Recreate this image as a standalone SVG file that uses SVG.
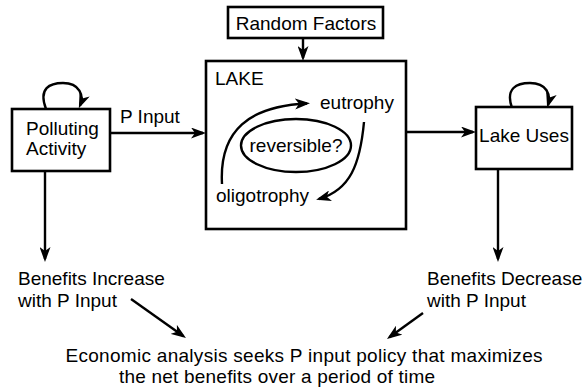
<svg xmlns="http://www.w3.org/2000/svg" width="584" height="389" viewBox="0 0 584 389">
  <style>
    .box { fill: #fff; stroke: #000; stroke-width: 2.6; }
    .lbl { font-family: "Liberation Sans", Arial, Helvetica, sans-serif; font-size: 19px; fill: #000; }
    .mid { text-anchor: middle; }
    .edge { fill: none; stroke: #000; stroke-width: 2.4; marker-end: url(#ah); }
  </style>
  <defs>
    <marker id="ah" viewBox="0 0 15 11" refX="12" refY="5.5" markerWidth="15" markerHeight="11" orient="auto" markerUnits="userSpaceOnUse">
      <path d="M0,0 L15,5.5 L0,11 L4,5.5 z" fill="#000"/>
    </marker>
  </defs>
  <rect width="584" height="389" fill="#fff"/>

  <!-- connectors -->
  <g id="connectors">
    <path class="edge" d="M303,38 L303,58"/>
    <path class="edge" d="M110,133 L203,133"/>
    <path class="edge" d="M406,132 L473,132"/>
    <path class="edge" d="M45,171 L45,259"/>
    <path class="edge" d="M498,169 L498,259"/>
    <path class="edge" d="M131,299 L183.5,336.3"/>
    <path class="edge" d="M423,313 L389.4,337.2"/>
    <!-- self loops -->
    <path class="edge" d="M46,109 C38,88 50,83 63,83 C80,83 84,96 80,105.5"/>
    <path class="edge" d="M512,108 C505,88 517,83 530,83 C547,83 551,95 548,105"/>
  </g>

  <g id="random-factors">
    <rect class="box" x="228" y="7" width="155" height="31"/>
    <text class="lbl mid" x="306" y="30">Random Factors</text>
  </g>

  <g id="lake">
    <rect class="box" x="206" y="61" width="200" height="168"/>
    <text class="lbl" x="215" y="85">LAKE</text>
    <text class="lbl" x="320" y="109">eutrophy</text>
    <text class="lbl" x="216" y="202">oligotrophy</text>
    <ellipse cx="296" cy="145.5" rx="55" ry="26.5" fill="none" stroke="#000" stroke-width="2.4"/>
    <text class="lbl mid" x="296" y="152">reversible?</text>
    <path class="edge" d="M222,184 C219,130 250,106 307,103.5"/>
    <path class="edge" d="M364,122 C360,165 350,190 319,199"/>
  </g>

  <g id="polluting-activity">
    <rect class="box" x="12" y="109" width="98" height="62"/>
    <text class="lbl" x="26" y="135">Polluting</text>
    <text class="lbl" x="26" y="155">Activity</text>
  </g>
  <text class="lbl" x="120" y="123">P Input</text>

  <g id="lake-uses">
    <rect class="box" x="476" y="107" width="96" height="62"/>
    <text class="lbl mid" x="524" y="142">Lake Uses</text>
  </g>

  <g id="benefits-increase">
    <text class="lbl" x="18" y="285">Benefits Increase</text>
    <text class="lbl" x="18" y="307">with P Input</text>
  </g>

  <g id="benefits-decrease">
    <text class="lbl" x="427" y="285">Benefits Decrease</text>
    <text class="lbl" x="427" y="307">with P Input</text>
  </g>

  <g id="economic-analysis">
    <text class="lbl mid" x="304" y="362" textLength="477">Economic analysis seeks P input policy that maximizes</text>
    <text class="lbl mid" x="277" y="383" textLength="316">the net benefits over a period of time</text>
  </g>
</svg>
